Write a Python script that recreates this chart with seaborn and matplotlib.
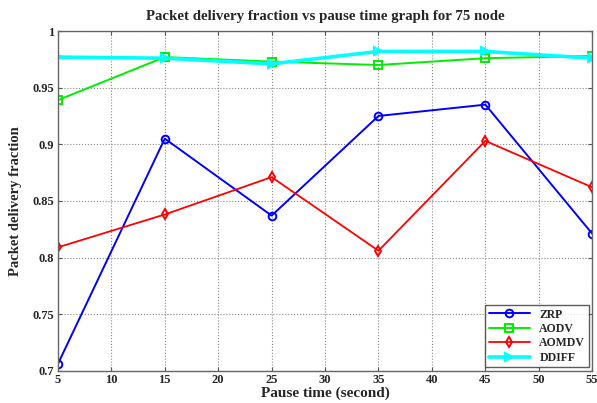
import matplotlib
matplotlib.use("Agg")
import matplotlib.pyplot as plt
import seaborn as sns
import pandas as pd
from matplotlib.ticker import FuncFormatter

pause_time = [5, 15, 25, 35, 45, 55]
zrp = [0.706, 0.905, 0.837, 0.925, 0.935, 0.821]
aodv = [0.939, 0.977, 0.973, 0.970, 0.976, 0.978]
aomdv = [0.809, 0.838, 0.871, 0.806, 0.903, 0.862]
ddiff = [0.977, 0.976, 0.971, 0.982, 0.982, 0.976]

protocols = ["ZRP", "AODV", "AOMDV", "DDIFF"]
series = [zrp, aodv, aomdv, ddiff]
colors = ["#0000ff", "#00ee00", "#ff0000", "#00ffff"]
markers = ["o", "s", "d", ">"]
widths = [1.4, 1.4, 1.3, 2.6]

df = pd.DataFrame({
    "Pause time": pause_time * len(protocols),
    "PDF": [v for s in series for v in s],
    "Protocol": [p for p in protocols for _ in pause_time],
})

sns.set_style("white")
plt.rcParams["font.family"] = ["Liberation Serif", "DejaVu Serif"]
plt.rcParams["font.weight"] = "bold"

fig = plt.figure(figsize=(5.97, 4.03), dpi=100)
ax = fig.add_axes([0.097, 0.08, 0.895, 0.843])

for name, col, mk, lw in zip(protocols, colors, markers, widths):
    sub = df[df["Protocol"] == name]
    sns.lineplot(data=sub, x="Pause time", y="PDF", ax=ax, color=col,
                 marker=mk, markersize=5.5, markerfacecolor="none",
                 markeredgecolor=col, markeredgewidth=1.4, linewidth=lw,
                 label=name)

ax.set_xlim(5, 55)
ax.set_ylim(0.7, 1.0)
ax.set_xticks(range(5, 56, 5))
ax.set_yticks([0.7, 0.75, 0.8, 0.85, 0.9, 0.95, 1.0])
ax.yaxis.set_major_formatter(FuncFormatter(lambda v, p: f"{v:g}"))
ax.tick_params(axis="both", labelsize=9, direction="in", length=3, pad=2.5,
               color="#555555", left=True, bottom=True, right=True, top=True)
for lab in ax.get_xticklabels() + ax.get_yticklabels():
    lab.set_fontweight("bold")
ax.grid(True, linestyle=":", color="#888888", linewidth=0.8)
for sp in ax.spines.values():
    sp.set_color("#666666")
    sp.set_linewidth(1.0)

ax.set_xlabel("Pause time (second)", fontsize=11, fontweight="bold", labelpad=0.5)
ax.set_ylabel("Packet delivery fraction", fontsize=10.5, fontweight="bold", labelpad=8)
ax.set_title("Packet delivery fraction vs pause time graph for 75 node",
             fontsize=10.7, fontweight="bold", pad=8)

leg = ax.legend(loc="lower right", fontsize=8.5, frameon=True, fancybox=False,
                edgecolor="#333333", handlelength=3.5, borderpad=0.3,
                labelspacing=0.2, borderaxespad=0.3)
leg.get_frame().set_linewidth(1.0)
for t in leg.get_texts():
    t.set_fontweight("bold")

fig.savefig("out.png", dpi=100)
